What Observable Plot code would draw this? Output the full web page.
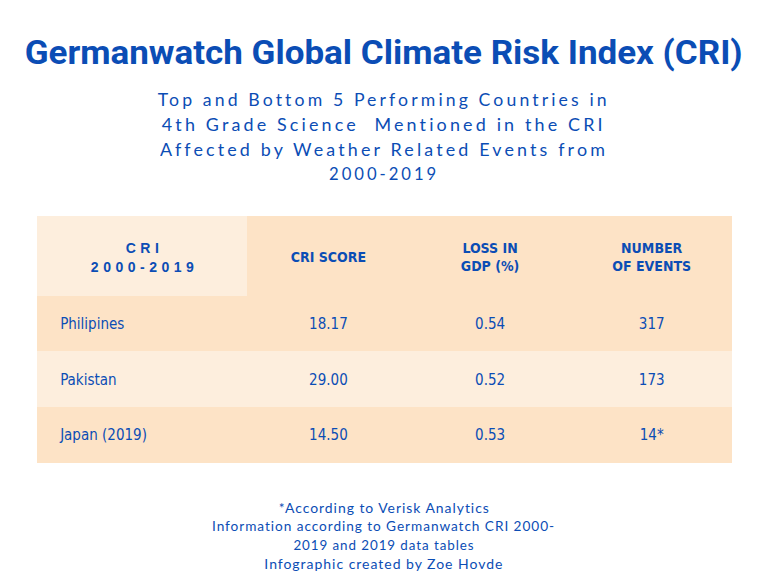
<!DOCTYPE html>
<html>
<head>
<meta charset="utf-8">
<script src="https://cdn.jsdelivr.net/npm/d3@7"></script>
<script src="https://cdn.jsdelivr.net/npm/@observablehq/plot@0.6"></script>
<style>
  html, body { margin: 0; padding: 0; background: #ffffff; }
  #page { position: relative; width: 768px; height: 576px; overflow: hidden; background: #fff; }
  #chart { position: absolute; left: 0; top: 0; }
  .line { position: absolute; left: 0; width: 768px; text-align: center; white-space: pre; color: #0b4db5; }
  .title { font-family: Roboto, "Liberation Sans", sans-serif; font-weight: 700; font-size: 33px; }
  .sub { font-family: Lato, "Open Sans", sans-serif; font-size: 17px; letter-spacing: 3px; }
  .cap { font-family: Lato, "Open Sans", sans-serif; font-size: 13px; letter-spacing: 0.9px; }
</style>
</head>
<body>
<div id="page"></div>
<script>
// ---- data ----
const title = "Germanwatch Global Climate Risk Index (CRI)";
const subtitleLines = [
  "Top and Bottom 5 Performing Countries in",
  "4th Grade Science  Mentioned in the CRI",
  "Affected by Weather Related Events from",
  "2000-2019"
];
const captionLines = [
  "*According to Verisk Analytics",
  "Information according to Germanwatch CRI 2000-",
  "2019 and 2019 data tables",
  "Infographic created by Zoe Hovde"
];
const headers = ["CRI\n2000-2019", "CRI SCORE", "LOSS IN\nGDP (%)", "NUMBER\nOF EVENTS"];
const countries = ["Philipines", "Pakistan", "Japan (2019)"];
const criScore = [18.17, 29.00, 14.50];
const gdpLoss = [0.54, 0.52, 0.53];
const events = [317, 173, 14];
const eventNotes = ["", "", "*"];

// ---- layout (table geometry in scale units) ----
const colEdges = [0, 1.3, 2.3, 3.3, 4.3];
const rowEdges = [0, 1.43, 2.43, 3.43, 4.43];
const peach = "#fde3c6";
const light = "#fdeedd";
const blue = "#0b4db5";
const narrow = "'DejaVu Sans Condensed', Roboto, 'Liberation Sans', sans-serif";

const page = document.getElementById("page");

function addLine(text, cls, top, targetWidth) {
  const d = document.createElement("div");
  d.className = "line " + cls;
  d.style.top = top + "px";
  const span = document.createElement("span");
  span.textContent = text;
  span.style.whiteSpace = "pre";
  span.style.display = "inline-block";
  d.appendChild(span);
  page.appendChild(d);
  const w = span.getBoundingClientRect().width;
  if (w > 0 && targetWidth) span.style.transform = `scaleX(${targetWidth / w})`;
}

const cells = [];
const texts = [];
headers.forEach((h, j) => {
  cells.push({x1: colEdges[j], x2: colEdges[j + 1], y1: rowEdges[0], y2: rowEdges[1], fill: j === 0 ? light : peach});
  texts.push({x: (colEdges[j] + colEdges[j + 1]) / 2, y: (rowEdges[0] + rowEdges[1]) / 2, text: h, spaced: j === 0});
});
countries.forEach((c, i) => {
  cells.push({x1: colEdges[0], x2: colEdges[4], y1: rowEdges[i + 1], y2: rowEdges[i + 2], fill: i % 2 === 0 ? peach : light});
});
const bodyRows = countries.map((c, i) => ({
  row: i,
  country: c,
  score: criScore[i].toFixed(2),
  loss: gdpLoss[i].toFixed(2),
  events: events[i] + eventNotes[i]
}));
const cy = r => (rowEdges[r.row + 1] + rowEdges[r.row + 2]) / 2;
const cx = j => (colEdges[j] + colEdges[j + 1]) / 2;

const chart = Plot.plot({
  width: 768,
  height: 576,
  marginLeft: 37,
  marginRight: 36,
  marginTop: 216,
  marginBottom: 113,
  x: {domain: [0, 4.3], axis: null},
  y: {domain: [0, 4.43], axis: null, reverse: true},
  marks: [
    Plot.rect(cells, {x1: "x1", x2: "x2", y1: "y1", y2: "y2", fill: d => d.fill, shapeRendering: "crispEdges"}),
    Plot.text(texts.filter(d => d.spaced), {
      x: "x", y: "y", text: "text", fill: blue, fontSize: 14, fontWeight: "bold", dx: 2,
      fontFamily: "'Liberation Sans', Arial, sans-serif", lineHeight: 1.35
    }),
    Plot.text(texts.filter(d => !d.spaced), {
      x: "x", y: "y", text: "text", fill: blue, fontSize: 14, fontWeight: "bold",
      fontFamily: narrow, lineHeight: 1.3
    }),
    Plot.text(bodyRows, {x: () => 0.14, y: cy, text: "country", textAnchor: "start", fill: blue, fontSize: 15, fontFamily: narrow}),
    Plot.text(bodyRows, {x: () => cx(1), y: cy, text: "score", fill: blue, fontSize: 15, fontFamily: narrow}),
    Plot.text(bodyRows, {x: () => cx(2), y: cy, text: "loss", fill: blue, fontSize: 15, fontFamily: narrow}),
    Plot.text(bodyRows, {x: () => cx(3), y: cy, text: "events", fill: blue, fontSize: 15, fontFamily: narrow})
  ]
});
chart.id = "chart";
page.appendChild(chart);
d3.select(chart).selectAll("text")
  .filter(function() { return this.textContent.includes("2000-2019"); })
  .style("letter-spacing", "4.5px");

addLine(title, "title", 33, 718);
const subTops = [89, 114, 139, 163];
const subWidths = [452, 444, 448, 110];
subtitleLines.forEach((t, i) => addLine(t, "sub", subTops[i], subWidths[i]));
const capTops = [500, 518, 537, 556];
const capWidths = [211, 343, 181, 239];
captionLines.forEach((t, i) => addLine(t, "cap", capTops[i], capWidths[i]));
</script>
</body>
</html>
